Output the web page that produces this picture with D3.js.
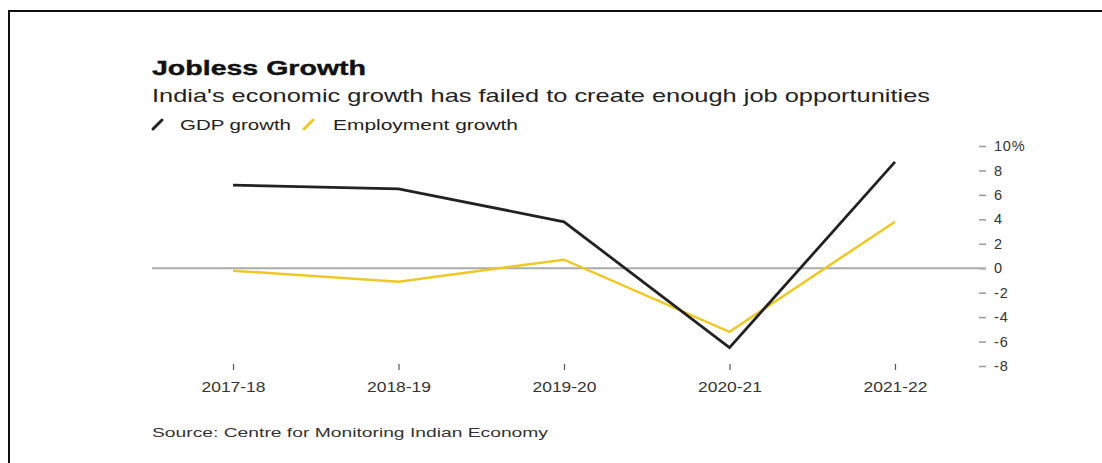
<!DOCTYPE html>
<html>
<head>
<meta charset="utf-8">
<script src="https://cdn.jsdelivr.net/npm/d3@7"></script>
<style>
  html, body { margin: 0; padding: 0; background: #fff; }
  svg { display: block; font-family: "Liberation Sans", Arial, sans-serif; }
</style>
</head>
<body>
<div id="chart"></div>
<script>
// data
const years = ["2017-18", "2018-19", "2019-20", "2020-21", "2021-22"];
const gdpGrowth = [6.8, 6.5, 3.8, -6.5, 8.7];
const employmentGrowth = [-0.2, -1.1, 0.7, -5.2, 3.8];
const yTicks = [10, 8, 6, 4, 2, 0, -2, -4, -6, -8];

const width = 1102, height = 463;
const gdpColor = "#222222", empColor = "#efc825";

const svg = d3.select("#chart").append("svg")
  .attr("width", width)
  .attr("height", height);

// frame - only top and left edges are visible
svg.append("path")
  .attr("d", `M9,${height} V11 H${width}`)
  .attr("fill", "none")
  .attr("stroke", "#111")
  .attr("stroke-width", 2);

// scales
const x = d3.scalePoint().domain(years).range([233, 895]);
const y = d3.scaleLinear().domain([-8, 10]).range([366, 146]);

// titles
svg.append("text")
  .attr("x", 152).attr("y", 75)
  .attr("font-size", 21).attr("font-weight", "bold").attr("fill", "#111")
  .attr("stroke", "#111").attr("stroke-width", 0.4)
  .attr("textLength", 214).attr("lengthAdjust", "spacingAndGlyphs")
  .text("Jobless Growth");

svg.append("text")
  .attr("x", 152).attr("y", 102)
  .attr("font-size", 18.5).attr("fill", "#222")
  .attr("textLength", 778).attr("lengthAdjust", "spacingAndGlyphs")
  .text("India's economic growth has failed to create enough job opportunities");

// legend
const legend = [
  {name: "GDP growth", color: gdpColor, x0: 153, tx: 180, w: 111},
  {name: "Employment growth", color: empColor, x0: 304, tx: 333, w: 185}
];
const lg = svg.append("g").selectAll("g").data(legend).join("g");
lg.append("line")
  .attr("x1", d => d.x0).attr("x2", d => d.x0 + 9)
  .attr("y1", 129).attr("y2", 120)
  .attr("stroke", d => d.color).attr("stroke-width", 3)
  .attr("stroke-linecap", "round");
lg.append("text")
  .attr("x", d => d.tx).attr("y", 130)
  .attr("font-size", 15.5).attr("fill", "#222")
  .attr("textLength", d => d.w).attr("lengthAdjust", "spacingAndGlyphs")
  .text(d => d.name);

// y axis on the right, dashes as ticks
const yAxis = svg.append("g")
  .attr("transform", "translate(979,0)")
  .call(d3.axisRight(y)
    .tickValues(yTicks)
    .tickSize(7)
    .tickPadding(8)
    .tickFormat(d => d === 10 ? "10%" : d));
yAxis.select(".domain").remove();
yAxis.selectAll(".tick line").attr("stroke", "#999").attr("stroke-width", 1.5);
yAxis.selectAll(".tick text")
  .attr("font-size", 14.5).attr("fill", "#333")
  .attr("letter-spacing", 0.8)
  .attr("font-family", "Liberation Sans, Arial, sans-serif");

// zero line
svg.append("line")
  .attr("x1", 152).attr("x2", 986)
  .attr("y1", y(0)).attr("y2", y(0))
  .attr("stroke", "#aaaaaa").attr("stroke-width", 2);

// x axis
const xAxis = svg.append("g")
  .attr("transform", "translate(0,364)")
  .call(d3.axisBottom(x).tickSize(6).tickPadding(12));
xAxis.select(".domain").remove();
xAxis.selectAll(".tick line").attr("stroke", "#555").attr("stroke-width", 1.2);
xAxis.selectAll(".tick text")
  .attr("font-size", 14.5).attr("fill", "#333")
  .attr("font-family", "Liberation Sans, Arial, sans-serif")
  .attr("textLength", 64).attr("lengthAdjust", "spacingAndGlyphs");

// lines
const line = d3.line()
  .x((d, i) => x(years[i]))
  .y(d => y(d));

svg.append("path")
  .datum(employmentGrowth)
  .attr("d", line)
  .attr("fill", "none")
  .attr("stroke", empColor)
  .attr("stroke-width", 2.5);

svg.append("path")
  .datum(gdpGrowth)
  .attr("d", line)
  .attr("fill", "none")
  .attr("stroke", gdpColor)
  .attr("stroke-width", 2.8);

// source
svg.append("text")
  .attr("x", 152).attr("y", 437)
  .attr("font-size", 13.5).attr("fill", "#333")
  .attr("textLength", 396).attr("lengthAdjust", "spacingAndGlyphs")
  .text("Source: Centre for Monitoring Indian Economy");
</script>
</body>
</html>
